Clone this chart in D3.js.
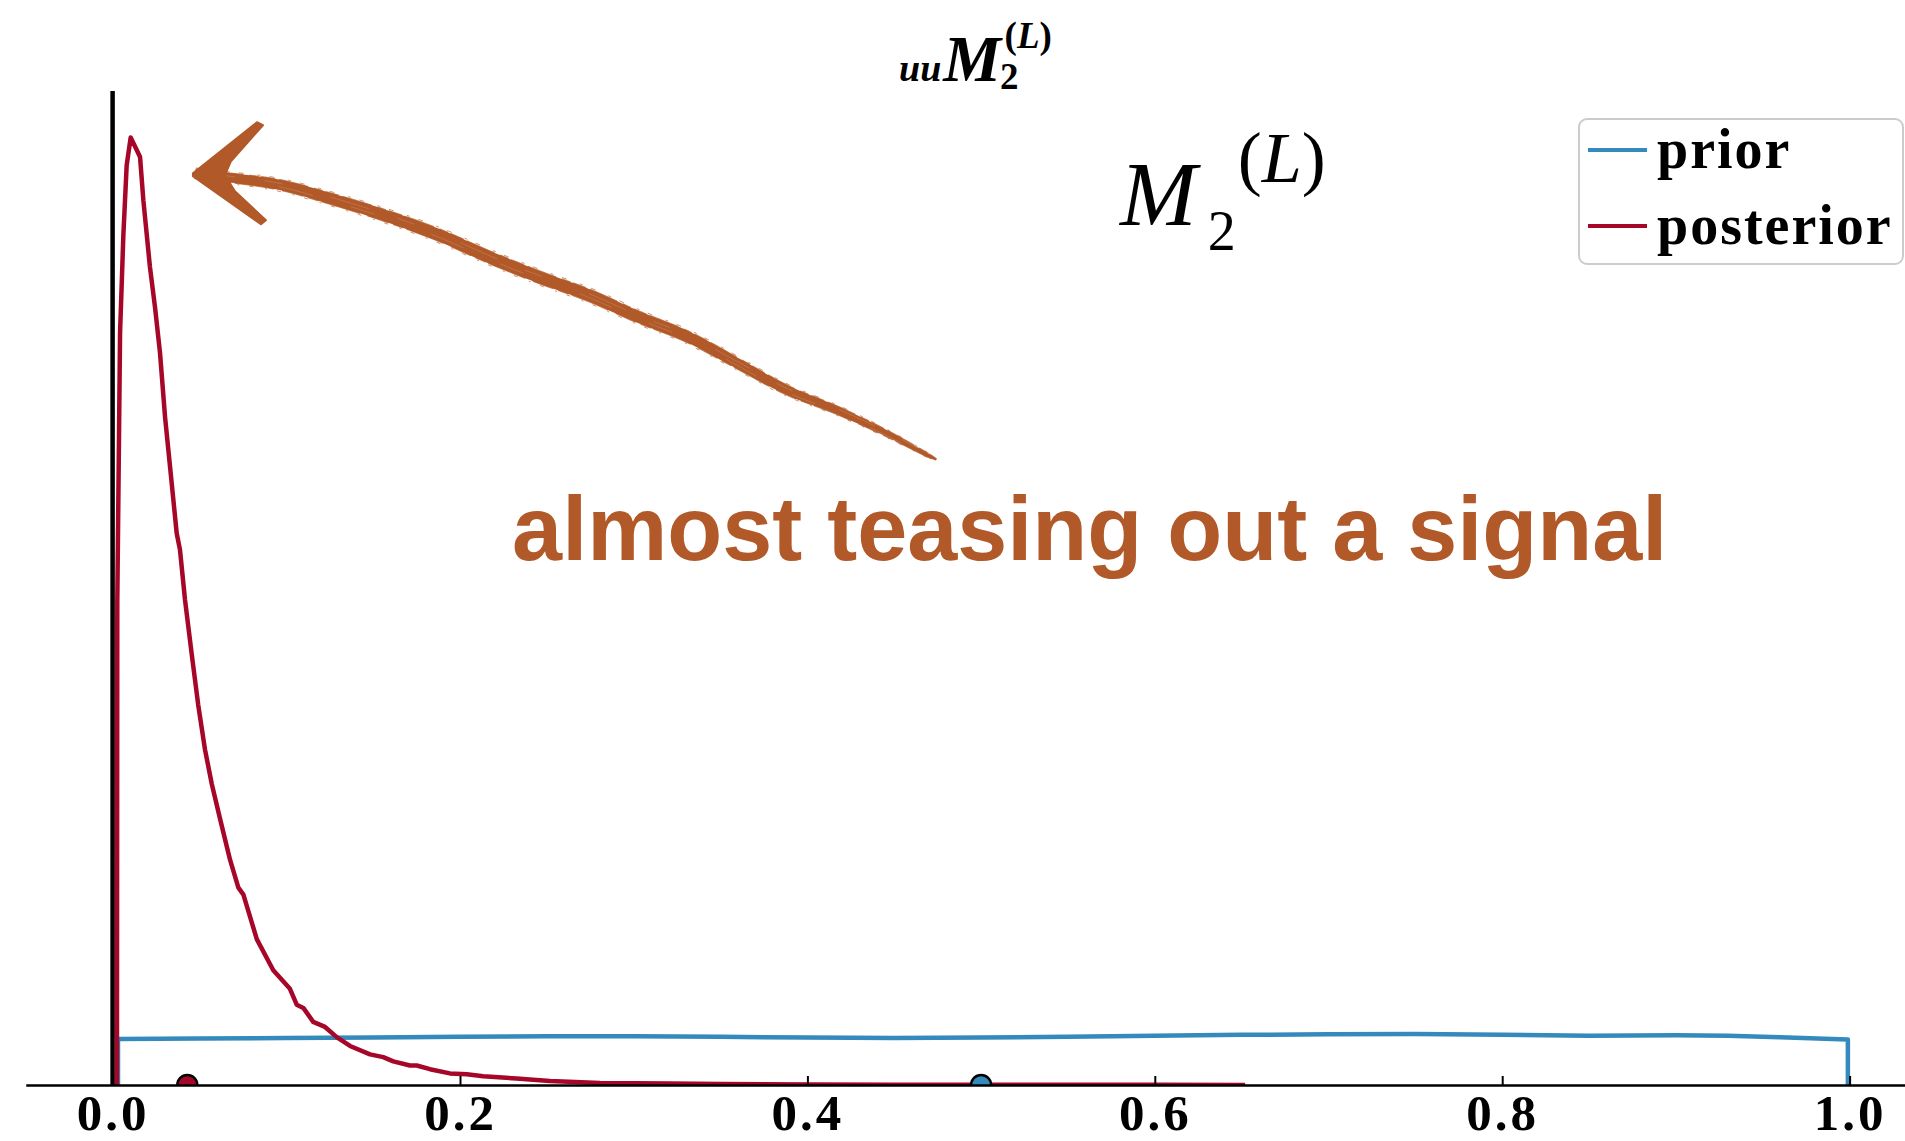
<!DOCTYPE html>
<html>
<head>
<meta charset="utf-8">
<script src="https://cdn.jsdelivr.net/npm/d3@7/dist/d3.min.js"></script>
<style>
  html, body { margin: 0; padding: 0; background: #ffffff; }
  svg { display: block; }
</style>
</head>
<body>
<script>
// ---- data ---------------------------------------------------------------
// Kernel density estimate of the posterior samples
const posteriorX = [0.0025, 0.0027, 0.0043, 0.0062, 0.0081, 0.0104, 0.0139, 0.0158, 0.0177,
  0.0215, 0.0244, 0.0273, 0.0302, 0.0331, 0.0369, 0.0388, 0.0417, 0.0455, 0.0493, 0.0532,
  0.0571, 0.0618, 0.0676, 0.0724, 0.0753, 0.0830, 0.0925, 0.1021, 0.1060, 0.1098, 0.1155,
  0.1223, 0.1290, 0.1367, 0.1482, 0.1558, 0.1616, 0.1712, 0.1751, 0.1827, 0.1942, 0.2039,
  0.2134, 0.2326, 0.2518, 0.2806, 0.32, 0.35, 0.40, 0.45, 0.50, 0.55, 0.60, 0.652];
const posteriorY = [0, 10.4, 16.2, 18.3, 19.8, 20.4, 20.13, 19.98, 19.05,
  17.61, 16.75, 15.76, 14.38, 13.30, 11.88, 11.52, 10.44, 9.29, 8.18, 7.22,
  6.48, 5.74, 4.85, 4.25, 4.10, 3.14, 2.47, 2.07, 1.73, 1.66, 1.36,
  1.25, 1.03, 0.84, 0.66, 0.60, 0.51, 0.42, 0.42, 0.34, 0.25, 0.23,
  0.19, 0.14, 0.086, 0.043, 0.03, 0.02, 0.012, 0.008, 0.005, 0.004, 0.003, 0.002];

// Kernel density estimate of the (uniform) prior samples
const priorX = [0.0031, 0.0031, 0.05, 0.1, 0.15, 0.2, 0.25, 0.3, 0.35, 0.4, 0.45, 0.5,
  0.55, 0.6, 0.65, 0.7, 0.75, 0.8, 0.85, 0.9, 0.93, 0.96, 0.99, 0.999, 0.999];
const priorY = [0, 0.99, 1.0, 1.01, 1.02, 1.04, 1.05, 1.05, 1.04, 1.02, 1.01, 1.02,
  1.04, 1.06, 1.08, 1.09, 1.1, 1.08, 1.06, 1.07, 1.06, 1.03, 0.99, 0.98, 0];

// Sample means shown as markers on the axis
const seriesNames = ["prior", "posterior"];
const seriesMeans = [0.5, 0.043];
const seriesColors = ["#348ABD", "#A60628"];

// Reference (true) value drawn as a vertical rule
const trueValue = 0.0;

const xTicks = [0.0, 0.2, 0.4, 0.6, 0.8, 1.0];
const xTickLabels = ["0.0", "0.2", "0.4", "0.6", "0.8", "1.0"];
const xDomain = [-0.05, 1.05];
const yDomain = [0, 21.4];

// Annotation arrow centreline (head -> tail) in data coordinates
const arrowX = [0.0474, 0.0532, 0.0703, 0.0961, 0.1248, 0.1591, 0.1877, 0.2164, 0.2450,
  0.2737, 0.3023, 0.3310, 0.3596, 0.3883, 0.4169, 0.4455, 0.4742];
const arrowY = [19.63, 19.59, 19.52, 19.38, 19.09, 18.69, 18.30, 17.83, 17.40,
  17.01, 16.54, 16.11, 15.54, 14.96, 14.53, 14.03, 13.46];
const noteText = "almost teasing out a signal";
const noteAt = [0.2300, 11.3];
const accent = "#b15928";

// ---- layout ---------------------------------------------------------------
const W = 1905, H = 1141;
const plotTop = 91, plotBottom = 1085;
const x0px = 112.6, unitPx = 1737;

const x = d3.scaleLinear().domain(xDomain)
  .range([x0px + xDomain[0] * unitPx, x0px + xDomain[1] * unitPx]);
const y = d3.scaleLinear().domain(yDomain).range([plotBottom, plotTop]);

const svg = d3.select("body").append("svg")
  .attr("width", W).attr("height", H)
  .attr("viewBox", `0 0 ${W} ${H}`);

svg.append("defs").append("clipPath").attr("id", "plot-clip")
  .append("rect")
  .attr("x", x.range()[0]).attr("y", plotTop)
  .attr("width", x.range()[1] - x.range()[0]).attr("height", plotBottom - plotTop);

const plot = svg.append("g").attr("clip-path", "url(#plot-clip)");

// true value rule
plot.append("line")
  .attr("x1", x(trueValue)).attr("x2", x(trueValue))
  .attr("y1", y(yDomain[0])).attr("y2", y(yDomain[1]))
  .attr("stroke", "#000").attr("stroke-width", 4.5);

const line = d3.line().x(d => x(d[0])).y(d => y(d[1]));

const priorPts = priorX.map((v, i) => [v, priorY[i]]);
const postPts = posteriorX.map((v, i) => [v, posteriorY[i]]);

plot.append("path").datum(priorPts)
  .attr("d", line).attr("fill", "none")
  .attr("stroke", seriesColors[0]).attr("stroke-width", 4.5)
  .attr("stroke-linejoin", "round");

plot.append("path").datum(postPts)
  .attr("d", line).attr("fill", "none")
  .attr("stroke", seriesColors[1]).attr("stroke-width", 4.5)
  .attr("stroke-linejoin", "round");

// mean markers sitting on the axis
plot.selectAll("circle.mean").data(seriesMeans)
  .join("circle").attr("class", "mean")
  .attr("cx", d => x(d)).attr("cy", y(0)).attr("r", 10)
  .attr("fill", (d, i) => seriesColors[i])
  .attr("stroke", "#000").attr("stroke-width", 2.4);

// x axis with inward ticks
const xAxis = d3.axisBottom(x)
  .tickValues(xTicks)
  .tickFormat((d, i) => xTickLabels[i])
  .tickSizeInner(-9).tickSizeOuter(0).tickPadding(9);

const gx = svg.append("g").attr("transform", `translate(0,${plotBottom})`).call(xAxis);
gx.select(".domain").attr("stroke", "#000").attr("stroke-width", 2.5);
gx.selectAll(".tick line").attr("stroke", "#000").attr("stroke-width", 2);
gx.selectAll(".tick text")
  .attr("fill", "#000")
  .style("font-family", "'Liberation Serif', serif")
  .style("font-weight", "bold")
  .style("font-size", "51px")
  .style("letter-spacing", "3px");

// ---- title -----------------------------------------------------------------
const serif = "'Liberation Serif', serif";
const title = svg.append("text").attr("x", 899).attr("y", 81)
  .style("font-family", serif).style("font-weight", "bold");
title.append("tspan").style("font-style", "italic").style("font-size", "38px").text("uu");
title.append("tspan").style("font-style", "italic").style("font-size", "65px").attr("dx", 2).text("M");
title.append("tspan").style("font-size", "37px").attr("dx", -1).attr("dy", 8).text("2");
title.append("tspan").style("font-size", "37px").attr("dx", -14).attr("dy", -41).text("(");
title.append("tspan").style("font-size", "37px").style("font-style", "italic").text("L");
title.append("tspan").style("font-size", "37px").text(")");

// ---- big label ------------------------------------------------------------
const big = svg.append("text").attr("x", 1120).attr("y", 225)
  .style("font-family", serif);
big.append("tspan").style("font-style", "italic").style("font-size", "92px").text("M");
big.append("tspan").style("font-size", "56px").attr("dx", 11).attr("dy", 25).text("2");
big.append("tspan").style("font-size", "72px").attr("dx", 2).attr("dy", -68).text("(");
big.append("tspan").style("font-size", "72px").style("font-style", "italic").text("L");
big.append("tspan").style("font-size", "72px").text(")");

// ---- annotation text ------------------------------------------------------
svg.append("text")
  .attr("x", x(noteAt[0])).attr("y", y(noteAt[1]))
  .attr("fill", accent)
  .style("font", "bold 90px 'Liberation Sans', Arial, sans-serif")
  .text(noteText);

// ---- hand-drawn arrow -----------------------------------------------------
const arrowPts = arrowX.map((v, i) => [x(v), y(arrowY[i])]);
const centre = svg.append("path")
  .attr("d", d3.line().curve(d3.curveCatmullRom.alpha(0.5))(arrowPts))
  .attr("fill", "none").attr("stroke", "none");
const node = centre.node();
const total = node.getTotalLength();
const N = 160;
const samples = d3.range(N + 1).map(i => {
  const p = node.getPointAtLength(total * i / N);
  return [p.x, p.y];
});
function normalAt(i) {
  const a = samples[Math.max(0, i - 1)], b = samples[Math.min(N, i + 1)];
  const dx = b[0] - a[0], dy = b[1] - a[1], L = Math.hypot(dx, dy) || 1;
  return [-dy / L, dx / L];
}
const halfW = t => 0.8 + 5.2 * Math.pow(Math.sin(Math.PI * (0.15 + 0.85 * t)), 0.5);
const left = [], right = [];
samples.forEach((p, i) => {
  const n = normalAt(i), w = halfW(i / N);
  left.push([p[0] + n[0] * w, p[1] + n[1] * w]);
  right.push([p[0] - n[0] * w, p[1] - n[1] * w]);
});
const arrowG = svg.append("g");
arrowG.append("path")
  .attr("d", "M" + left.concat(right.reverse()).map(p => p.join(",")).join("L") + "Z")
  .attr("fill", accent);

// rough strokes along the edges of the brush
[[-6, 1.3, "14 4 30 6 9 3"], [6, 1.3, "22 5 11 3 40 8"], [-7.5, 0.9, "3 9 5 14"], [7.5, 0.9, "4 12 2 10"]]
  .forEach(([off, sw, dash]) => {
    const pts = samples.map((p, i) => {
      const n = normalAt(i), k = Math.min(1, halfW(i / N) / 6);
      return [p[0] + n[0] * off * k, p[1] + n[1] * off * k];
    });
    arrowG.append("path")
      .attr("d", d3.line()(pts))
      .attr("fill", "none")
      .attr("stroke", accent)
      .attr("stroke-opacity", 0.75)
      .attr("stroke-width", sw)
      .attr("stroke-dasharray", dash);
  });
// faint light streaks inside the brush
[[-1.5, "40 30 18 50"], [2, "25 60 35 40"]].forEach(([off, dash]) => {
  const pts = samples.map((p, i) => {
    const n = normalAt(i);
    return [p[0] + n[0] * off, p[1] + n[1] * off];
  });
  arrowG.append("path")
    .attr("d", d3.line()(pts))
    .attr("fill", "none")
    .attr("stroke", "#ffffff")
    .attr("stroke-opacity", 0.18)
    .attr("stroke-width", 0.8)
    .attr("stroke-dasharray", dash);
});

// arrow head as a chevron, offsets in pixels from the tip
const tip = arrowPts[0];
const headShape = [[-2, 0], [62, -51], [68, -48], [36, -12], [30, 2], [40, 18], [71, 47], [66, 51], [-2, 3]];
arrowG.append("path")
  .attr("d", "M" + headShape.map(o => [tip[0] + o[0], tip[1] + o[1]].join(",")).join("L") + "Z")
  .attr("fill", accent)
  .attr("stroke", accent).attr("stroke-width", 2).attr("stroke-linejoin", "round");

// ---- legend ----------------------------------------------------------------
const legend = svg.append("g");
legend.append("rect")
  .attr("x", 1579).attr("y", 119).attr("width", 324).attr("height", 145)
  .attr("rx", 8).attr("ry", 8)
  .attr("fill", "#ffffff").attr("fill-opacity", 0.8)
  .attr("stroke", "#cccccc").attr("stroke-width", 2);
seriesNames.forEach((name, i) => {
  const ly = 150 + i * 76;
  legend.append("line")
    .attr("x1", 1588).attr("x2", 1647).attr("y1", ly).attr("y2", ly)
    .attr("stroke", seriesColors[i]).attr("stroke-width", 4);
  legend.append("text")
    .attr("x", 1657).attr("y", ly + 18)
    .style("font", `bold 56px ${serif}`)
    .style("letter-spacing", "2px")
    .text(name);
});
</script>
</body>
</html>
